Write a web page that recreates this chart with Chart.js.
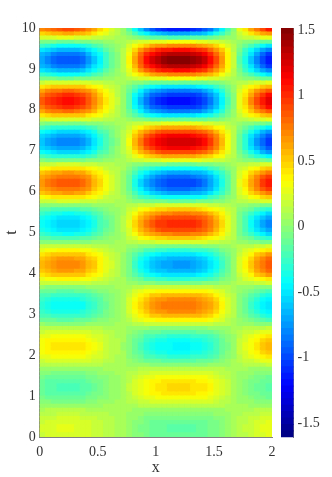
<!DOCTYPE html>
<html><head><meta charset="utf-8">
<script src="https://cdn.jsdelivr.net/npm/chart.js@4"></script>
<style>html,body{margin:0;padding:0;background:#fff}#wrap{position:relative;width:332px;height:477px}canvas{position:absolute;top:0}</style>
</head><body><div id="wrap"><canvas id="heat" style="left:0"></canvas><canvas id="bar" style="left:281px"></canvas></div>
<script>
const xCenters=[0.025,0.075,0.125,0.175,0.225,0.275,0.325,0.375,0.425,0.475,0.525,0.575,0.625,0.675,0.725,0.775,0.825,0.875,0.925,0.975,1.025,1.075,1.125,1.175,1.225,1.275,1.325,1.375,1.425,1.475,1.525,1.575,1.625,1.675,1.725,1.775,1.825,1.875,1.925,1.975];
const xTicks=[0,0.5,1,1.5,2];
const tTicks=[0,1,2,3,4,5,6,7,8,9,10];
const cbTicks=[-1.5,-1,-0.5,0,0.5,1,1.5];
const cbMin=-1.61, cbMax=1.515, cbLevels=64;
// Colour-read values x100 across xCenters. Rows repeat either side of each band's crest, so each profile is listed once.
const profiles=[
[9,10,10,10,10,10,10,10,9,9,8,8,8,7,7,6,5,5,4,4,3,3,3,3,3,3,3,3,4,4,5,5,6,7,8,8,9,10,10,11],
[13,14,14,15,15,15,15,14,13,12,11,10,9,8,7,5,3,1,0,-1,-2,-3,-3,-3,-3,-3,-3,-2,-2,0,1,3,5,6,9,11,12,14,16,17],
[17,18,19,20,20,20,20,19,17,15,13,11,10,8,7,4,1,-2,-5,-6,-8,-8,-9,-9,-9,-9,-9,-8,-7,-5,-2,0,3,6,10,13,15,18,21,23],
[19,21,22,23,23,23,23,22,20,17,15,12,10,8,6,3,-1,-4,-7,-10,-11,-12,-13,-13,-13,-13,-13,-12,-10,-8,-5,-1,2,6,11,14,18,21,24,26],
[21,23,24,25,25,25,24,23,21,19,16,13,11,8,6,3,-2,-6,-9,-11,-13,-14,-15,-15,-15,-15,-15,-13,-12,-9,-6,-2,2,6,11,15,19,22,26,28],
[4,4,3,3,3,3,3,3,4,4,5,6,6,7,7,8,9,10,11,12,12,13,13,13,13,13,13,13,12,11,11,10,8,7,6,6,5,4,4,3],
[-3,-4,-5,-6,-6,-6,-6,-5,-3,-1,1,3,4,6,8,10,14,17,19,21,22,23,24,24,24,24,24,23,22,20,17,14,11,8,5,3,1,-1,-2,-4],
[-8,-10,-12,-13,-13,-13,-12,-11,-9,-6,-3,0,3,5,8,12,18,22,26,29,32,33,34,34,34,34,33,32,30,27,23,18,13,9,4,1,-3,-6,-8,-10],
[-12,-15,-16,-18,-18,-18,-17,-16,-13,-9,-5,-2,2,5,8,14,21,26,31,35,38,40,41,41,41,41,40,39,36,32,27,21,15,9,3,-1,-5,-8,-12,-14],
[-14,-17,-19,-20,-21,-21,-20,-18,-15,-11,-7,-3,1,5,8,15,22,29,34,39,42,43,45,45,45,45,44,42,40,35,29,23,16,9,3,-2,-6,-11,-14,-17],
[12,12,13,13,13,13,13,12,12,11,10,9,8,7,7,5,4,2,1,0,0,-1,-1,-1,-1,-1,-1,-1,0,1,2,4,5,7,8,10,11,13,14,15],
[19,21,22,23,23,23,23,22,20,17,15,12,10,8,6,2,-2,-6,-10,-12,-14,-15,-16,-16,-16,-16,-16,-14,-13,-10,-7,-3,2,6,11,15,19,23,27,29],
[27,29,31,32,33,33,32,31,28,24,20,16,12,9,6,0,-8,-14,-20,-24,-27,-29,-30,-30,-30,-30,-29,-27,-25,-20,-15,-9,-2,5,14,20,27,33,38,43],
[31,35,37,38,39,39,38,36,33,28,23,18,13,10,6,-2,-11,-19,-26,-31,-35,-37,-39,-39,-39,-39,-38,-36,-33,-27,-20,-12,-4,4,15,23,31,39,46,52],
[34,38,40,42,43,43,42,40,36,30,25,19,14,10,5,-3,-13,-22,-30,-35,-39,-42,-43,-44,-44,-44,-43,-40,-37,-31,-23,-14,-5,4,16,25,34,43,50,56],
[1,0,-1,-1,-1,-1,-1,0,1,2,3,4,5,6,7,9,12,14,16,17,18,19,19,19,19,19,19,18,17,16,14,12,10,8,5,4,2,0,-2,-3],
[-10,-12,-13,-15,-15,-15,-14,-13,-11,-7,-4,0,3,5,8,13,20,25,30,34,36,38,39,39,39,39,38,37,35,31,26,20,14,9,2,-3,-8,-13,-17,-20],
[-20,-23,-26,-27,-28,-28,-27,-25,-21,-16,-10,-5,0,4,9,17,27,36,44,49,53,56,57,58,58,58,57,54,51,45,37,28,19,10,-1,-8,-16,-24,-30,-36],
[-27,-32,-35,-37,-38,-38,-37,-34,-29,-22,-15,-8,-2,3,9,20,33,43,53,60,65,68,70,71,71,71,70,67,62,54,45,34,22,11,-3,-12,-22,-32,-40,-46],
[-31,-36,-40,-42,-43,-43,-42,-39,-33,-26,-18,-10,-3,3,9,21,35,47,58,66,72,75,77,78,78,78,77,73,68,60,49,37,23,11,-4,-14,-25,-36,-45,-52],
[15,16,16,17,17,17,17,16,15,14,12,10,9,8,7,4,2,0,-2,-4,-5,-5,-6,-6,-6,-6,-6,-5,-4,-3,-1,2,4,6,10,12,14,17,19,21],
[29,32,34,35,36,36,35,33,30,26,21,17,13,9,6,0,-8,-14,-20,-24,-27,-29,-30,-30,-30,-30,-29,-27,-25,-20,-15,-9,-2,5,14,20,27,34,39,44],
[42,47,50,52,53,53,52,49,44,37,30,23,16,11,5,-5,-16,-26,-35,-41,-46,-49,-50,-51,-51,-51,-50,-47,-43,-36,-27,-17,-6,4,18,28,39,49,58,65],
[51,57,61,64,65,65,63,60,53,45,35,27,19,12,5,-8,-22,-35,-46,-54,-59,-63,-65,-66,-66,-66,-65,-61,-56,-47,-36,-24,-10,3,21,34,47,60,72,81],
[56,62,67,70,71,71,69,65,58,49,38,29,20,12,5,-9,-25,-39,-51,-60,-67,-71,-73,-74,-74,-74,-72,-68,-63,-53,-41,-27,-12,2,22,36,52,66,78,88],
[0,-2,-2,-3,-3,-3,-3,-2,-1,1,2,4,5,6,7,10,13,16,18,19,21,21,22,22,22,22,22,21,20,18,16,13,10,8,4,2,0,-3,-5,-7],
[-15,-18,-20,-21,-22,-22,-21,-19,-16,-12,-7,-3,1,5,8,16,24,32,38,43,46,48,50,50,50,50,49,47,44,39,32,25,17,10,0,-7,-14,-21,-27,-32],
[-28,-33,-36,-38,-39,-39,-38,-35,-30,-23,-16,-9,-2,3,9,20,34,45,55,63,68,71,73,74,74,74,73,69,65,57,47,35,22,11,-5,-15,-27,-38,-47,-55],
[-37,-43,-47,-50,-51,-51,-49,-46,-39,-31,-21,-13,-5,2,10,24,41,55,68,78,84,89,91,92,92,92,90,86,80,70,57,43,27,12,-7,-21,-35,-49,-61,-71],
[-42,-48,-53,-56,-57,-57,-55,-51,-44,-35,-24,-15,-6,2,10,26,45,61,75,85,93,97,100,101,101,101,99,94,88,77,62,46,29,13,-9,-24,-40,-55,-69,-79],
[17,18,19,20,20,20,20,19,17,15,13,11,10,8,6,4,0,-3,-5,-7,-8,-9,-10,-10,-10,-10,-10,-9,-8,-6,-3,0,3,6,10,13,15,18,21,23],
[34,38,40,42,43,43,42,40,36,30,25,19,14,10,6,-3,-13,-21,-28,-34,-38,-40,-42,-42,-42,-42,-41,-39,-35,-29,-22,-14,-4,4,15,23,31,39,46,52],
[50,56,60,63,64,64,62,59,53,44,35,26,18,12,5,-8,-24,-37,-48,-57,-63,-67,-69,-70,-70,-70,-68,-65,-59,-50,-38,-25,-11,2,20,32,45,57,68,77],
[61,68,73,77,78,78,76,72,64,53,42,31,21,13,4,-12,-31,-48,-62,-73,-80,-85,-88,-89,-89,-89,-87,-82,-76,-64,-50,-33,-15,1,23,39,55,71,84,95],
[67,75,80,84,86,86,84,79,70,58,46,34,23,13,4,-14,-36,-54,-70,-82,-90,-96,-99,-100,-100,-100,-98,-93,-85,-72,-56,-38,-18,1,25,42,61,78,93,105],
[-4,-5,-6,-7,-7,-7,-7,-6,-4,-2,0,2,4,6,8,11,15,18,21,23,24,25,26,26,26,26,26,25,23,21,18,15,11,8,4,0,-3,-6,-9,-11],
[-24,-28,-31,-33,-34,-34,-33,-30,-26,-20,-13,-7,-1,4,9,18,29,38,46,52,56,59,60,61,61,61,60,57,53,47,39,30,19,10,-3,-12,-21,-30,-38,-44],
[-42,-48,-53,-56,-57,-57,-55,-51,-44,-35,-24,-15,-6,2,10,24,41,55,68,78,84,89,91,92,92,92,90,86,80,70,57,43,27,12,-8,-22,-38,-52,-64,-74],
[-54,-62,-67,-71,-73,-73,-71,-66,-57,-45,-32,-20,-9,1,10,28,50,68,84,96,104,110,113,114,114,114,112,107,99,86,70,52,32,13,-12,-30,-49,-67,-82,-95],
[-61,-70,-76,-80,-82,-82,-79,-74,-64,-51,-37,-23,-11,0,11,31,55,75,93,106,115,121,125,126,126,126,124,118,109,95,77,57,34,14,-14,-34,-55,-75,-92,-106],
[19,21,22,23,23,23,23,22,20,17,15,12,10,8,6,3,-1,-4,-7,-10,-11,-12,-13,-13,-13,-13,-13,-12,-10,-8,-5,-1,2,6,10,14,17,20,23,25],
[42,47,50,52,53,53,52,49,44,37,30,23,16,11,5,-5,-16,-26,-35,-41,-46,-49,-50,-51,-51,-51,-50,-47,-43,-36,-27,-17,-6,4,17,26,35,44,52,58],
[62,69,74,78,79,79,77,73,65,54,42,31,21,13,4,-11,-29,-45,-59,-69,-76,-80,-83,-84,-84,-84,-82,-78,-71,-60,-47,-31,-14,2,22,36,52,66,78,88],
[76,85,92,96,98,98,95,90,80,66,52,38,25,14,4,-16,-39,-58,-75,-88,-97,-102,-106,-107,-107,-107,-105,-99,-91,-77,-60,-41,-19,0,26,44,63,81,96,109],
[84,94,101,106,108,108,105,99,88,73,56,41,27,15,3,-18,-44,-65,-84,-98,-109,-115,-119,-120,-120,-120,-117,-111,-102,-87,-68,-46,-22,-1,28,48,69,89,106,120],
[-6,-8,-9,-10,-10,-10,-9,-8,-7,-4,-1,1,4,6,8,12,16,20,24,26,28,29,30,30,30,30,30,28,27,24,21,17,12,8,3,0,-4,-7,-10,-12],
[-29,-33,-37,-39,-40,-40,-39,-36,-31,-24,-16,-9,-2,3,9,20,33,43,53,60,65,68,70,71,71,71,70,67,62,54,45,34,22,11,-3,-13,-24,-34,-42,-49],
[-50,-58,-63,-67,-68,-68,-66,-61,-53,-42,-30,-19,-8,1,10,27,47,65,80,91,99,104,107,108,108,108,106,101,94,82,67,49,30,13,-9,-25,-41,-57,-70,-81],
[-64,-73,-79,-84,-86,-86,-83,-78,-67,-53,-39,-25,-12,0,11,32,57,79,98,112,122,128,132,133,133,133,130,124,115,100,81,60,36,15,-14,-33,-53,-73,-90,-104],
[-72,-82,-90,-95,-97,-97,-94,-88,-76,-61,-44,-28,-14,-1,11,35,63,87,109,124,135,142,147,148,148,148,145,138,128,111,90,66,39,15,-16,-37,-60,-82,-101,-116],
[21,22,24,25,25,25,24,23,21,19,16,13,11,8,6,2,-4,-8,-12,-15,-18,-19,-20,-20,-20,-20,-19,-18,-16,-13,-9,-4,1,5,11,15,19,22,26,28],
[47,52,55,58,59,59,57,54,49,41,32,25,17,11,5,-8,-24,-37,-48,-57,-63,-67,-69,-70,-70,-70,-68,-65,-59,-50,-38,-25,-11,2,18,29,40,51,61,68],
[69,78,83,87,89,89,87,82,73,60,47,35,23,14,3,-17,-41,-62,-80,-93,-103,-109,-113,-114,-114,-114,-112,-106,-97,-83,-64,-44,-21,0,25,42,59,76,91,103]
];
// which profile each row t = 0.05, 0.15, ... 9.95 shows
const rowProfile=[3,4,4,3,2,1,0,
5,6,7,8,9,9,8,7,6,5,
10,11,12,13,14,14,13,12,11,10,
15,16,17,18,19,19,18,17,16,15,
20,21,22,23,24,24,23,22,21,20,
25,26,27,28,29,29,28,27,26,25,
30,31,32,33,34,34,33,32,31,30,
35,36,37,38,39,39,38,37,36,35,
40,41,42,43,44,44,43,42,41,40,
45,46,47,48,49,49,48,47,46,45,
50,51,52];

function jet(f){
  const c=k=>Math.round(255*Math.max(0,Math.min(1,1.5-Math.abs(4*f-k))));
  return `rgb(${c(3)},${c(2)},${c(1)})`;
}
function colourOf(v){
  const i=Math.max(0,Math.min(cbLevels-1,Math.floor((v-cbMin)/(cbMax-cbMin)*cbLevels)));
  return jet((i+0.5)/cbLevels);
}
const FONT={family:"'Liberation Serif',serif",size:14};
const INK='#333333',AXIS='#808080';
function fixTicks(arr){return s=>{s.ticks=arr.map(v=>({value:v}));};}
const rowH=0.05;
const datasets=rowProfile.map((p,r)=>{
  const t=(r+0.5)/10, vals=profiles[p];
  return {data:vals.map((v,j)=>({x:xCenters[j],y:[t-rowH,t+rowH]})),
          backgroundColor:vals.map(v=>colourOf(v/100)),
          borderWidth:0,inflateAmount:0.6,grouped:false,barPercentage:1,categoryPercentage:1};
});
const heat=document.getElementById('heat');heat.width=332;heat.height=477;
new Chart(heat,{type:'bar',data:{datasets},options:{
  responsive:false,animation:false,events:[],
  layout:{padding:{left:0,right:60,top:28,bottom:0}},
  plugins:{legend:{display:false},tooltip:{enabled:false}},
  scales:{
    x:{type:'linear',min:0,max:2,afterBuildTicks:fixTicks(xTicks),afterFit:s=>{s.height=40;},
       offset:false,grid:{display:false,drawTicks:false},border:{display:true,color:AXIS},
       ticks:{color:INK,font:FONT,padding:7,maxRotation:0,autoSkip:false,callback:v=>String(v)},
       title:{display:true,text:'x',color:INK,font:{...FONT,size:16},padding:{top:0,bottom:0}}},
    y:{type:'linear',min:0,max:10,afterBuildTicks:fixTicks(tTicks),afterFit:s=>{s.width=39.7;},
       grid:{display:false,drawTicks:false},border:{display:true,color:AXIS},
       ticks:{color:INK,font:FONT,padding:4,autoSkip:false,callback:v=>String(v)},
       title:{display:true,text:'t',color:INK,font:{...FONT,size:16},padding:{top:2,bottom:0}}}
  }}});
const levels=Array.from({length:cbLevels},(_,i)=>i);
const cbStep=(cbMax-cbMin)/cbLevels;
const bar=document.getElementById('bar');bar.width=51;bar.height=477;
new Chart(bar,{type:'bar',data:{labels:['c'],datasets:levels.map(i=>({
    data:[[cbMin+i*cbStep,cbMin+(i+1)*cbStep]],backgroundColor:jet((i+0.5)/cbLevels),
    borderWidth:0,inflateAmount:0.6,grouped:false,barPercentage:1,categoryPercentage:1}))},
  options:{responsive:false,animation:false,events:[],
  layout:{padding:{left:0,right:0,top:28,bottom:39.7}},
  plugins:{legend:{display:false},tooltip:{enabled:false}},
  scales:{
    x:{display:false},
    y:{position:'right',type:'linear',min:cbMin,max:cbMax,afterBuildTicks:fixTicks(cbTicks),afterFit:s=>{s.width=38.5;},
       grid:{display:true,drawOnChartArea:false,drawTicks:true,tickLength:-3,color:'#555'},border:{display:true,color:AXIS},
       ticks:{color:INK,font:FONT,padding:7,autoSkip:false,callback:v=>String(v)}}
  }}});
</script></body></html>
